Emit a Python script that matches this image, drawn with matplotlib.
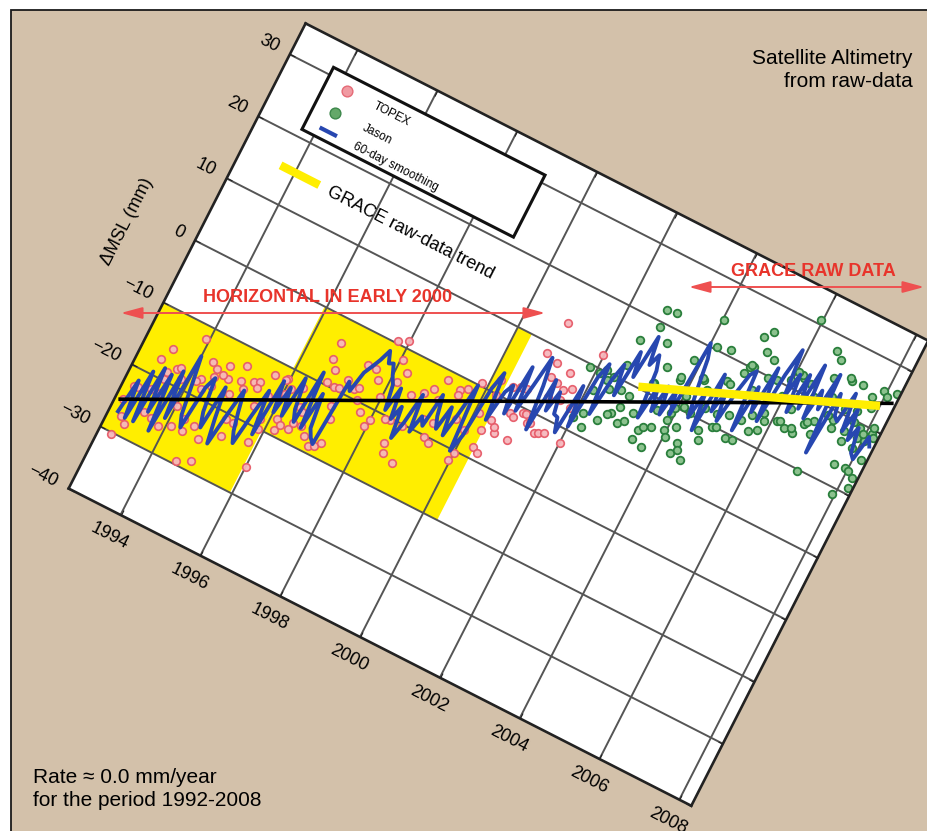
import numpy as np
import matplotlib
matplotlib.use("Agg")
import matplotlib.pyplot as plt
from matplotlib.transforms import Affine2D
from matplotlib.patches import Rectangle, FancyArrowPatch
import mpl_toolkits.axisartist.floating_axes as floating_axes
from mpl_toolkits.axisartist.grid_finder import FixedLocator

plt.rcParams['font.family'] = ['Liberation Sans', 'DejaVu Sans']

# ---------------- data ----------------
x_ticks = [1994, 1996, 1998, 2000, 2002, 2004, 2006, 2008]
y_ticks = [-40, -30, -20, -10, 0, 10, 20, 30]
y_tick_labels = ['\u221240', '\u221230', '\u221220', '\u221210', '0', '10', '20', '30']
X_MIN, X_MAX, Y_MIN, Y_MAX = 1992.7, 2008.3, -40, 35

# 60-day smoothing (blue), one value every 0.1 year from 1992.9
blue_vals = [
    -26.9, -21.6, -27.3, -19.5, -27.2, -18.3, -25.0, -18.7, -27.4, -17.5,
    -24.7, -14.4, -18.6, -23.2, -24.9, -18.1, -16.3, -21.4, -23.6, -16.8,
    -21.5, -25.2, -20.3, -16.0, -19.2, -21.9, -23.5, -18.7, -14.4, -21.1,
    -12.2, -16.9, -12.6, -16.8, -10.4, -15.1, -16.8, -8.5, -17.1, -11.3,
    -16.5, -17.7, -18.4, -8.0, -9.2, -5.9, -4.6, -3.2, -1.4, -3.1,
    -2.8, -4.4, -5.6, -9.3, -5.5, -10.1, -7.8, -12.5, -9.7, -4.9,
    -10.5, -7.7, -8.9, -3.6, -6.7, -8.4, -4.6, -8.8, -4.9, -0.1,
    -10.3, -7.5, 0.4, 3.2, -4.0, 0.8, 2.2, -2.0, 5.8, -0.9,
    3.5, 8.3, 4.1, -2.6, 5.7, 1.1, 4.4, 1.2, 1.0, -1.1,
    6.7, 0.5, 8.8, 11.2, 3.5, 9.3, 12.1, 7.5, 14.8, 11.1,
    17.9, 13.7, 15.6, 13.4, 6.2, 11.5, 7.9, 12.2, 8.0, 12.3,
    8.7, 20.5, 18.3, 13.6, 9.5, 13.8, 8.1, 17.4, 11.8, 15.1,
    10.9, 15.7, 19.0, 19.9, 10.7, 18.0, 14.3, 21.7, 13.5, 21.3,
    25.6, 18.5, 22.3, 16.6, 22.9, 17.8, 25.1, 16.9, 21.7, 19.0,
    24.9, 12.7, 22.5, 19.3, 18.7, 23.5, 17.8, 21.6, 17.0, 19.3,
    15.6, 14.9, 18.8, 17.6]
blue_years = np.round(1992.9 + 0.1 * np.arange(len(blue_vals)), 1)

topex_years = [
    1992.99, 1993.00, 1992.87, 1993.22, 1993.48, 1993.37, 1993.48, 1993.65, 1993.82, 1993.84,
    1994.10, 1994.55, 1994.85, 1994.77, 1993.91, 1994.30, 1994.45, 1994.45, 1994.68, 1995.02,
    1995.16, 1995.31, 1995.20, 1995.80, 1995.86, 1995.81, 1995.30, 1995.44, 1995.72, 1996.18,
    1996.15, 1995.95, 1996.11, 1996.50, 1996.85, 1996.01, 1996.48, 1994.22, 1994.49, 1994.56,
    1994.28, 1993.42, 1993.33, 1992.96, 1994.32, 1994.76,
    1995.91, 1996.46, 1996.69, 1997.03, 1997.15, 1997.25, 1996.66, 1996.80, 1996.63, 1996.94,
    1997.08, 1997.40, 1997.74, 1997.97, 1998.50, 1998.60, 1998.88, 1997.75, 1997.97, 1998.05,
    1998.26, 1998.40, 1999.24, 1999.38, 1999.29, 1999.14, 1999.95, 2000.00, 1999.49, 1999.96,
    1999.63, 2000.33, 2000.47, 2000.30, 2000.59, 2000.19, 2000.72, 2000.52, 2001.16, 2001.39,
    1998.79, 1999.14,
    1997.15, 1997.36, 1997.54, 1997.73, 1997.94, 1998.00,
    2000.95, 2000.85, 2001.14, 2001.50, 2001.16, 2001.35, 2001.54, 2000.66, 2000.82, 2001.22,
    2001.47, 2001.59, 2002.02, 2000.94, 2000.53, 2000.98, 2001.98, 2001.58, 2001.30,
    1993.05, 1993.15, 1993.55, 1993.62, 1993.72, 1994.02, 1994.15, 1994.38, 1994.62, 1994.92,
    1995.05, 1995.12, 1995.42, 1995.55, 1995.65, 1996.05, 1996.25, 1996.35, 1996.58, 1996.75,
    1997.05, 1997.20, 1997.45, 1997.60, 1998.15, 1998.30, 1998.55, 1998.70, 1998.95, 1999.05,
    1999.50, 1999.70, 1999.85, 2000.10, 2000.25, 2000.40, 2000.80, 2001.05, 2001.70, 2001.85]
topex_vals = [
    -30.3, -27.3, -25.0, -17.4, -19.8, -15.3, -18.6, -17.6, -18.7, -26.2,
    -25.4, -29.5, -28.5, -25.3, -11.9, -14.4, -15.0, -16.2, -13.8, -12.7,
    -15.9, -20.8, -23.4, -22.4, -20.1, -18.6, -14.3, -13.9, -15.2, -19.1,
    -17.5, -11.7, -12.8, -16.9, -18.0, -25.7, -14.4, -17.4, -17.6, -23.9,
    -23.6, -25.3, -21.9, -22.6, -18.7, -15.6,
    -11.9, -18.1, -16.9, -19.0, -18.6, -17.7, -6.2, -7.4, -3.6, -9.7,
    -12.4, -4.6, -5.9, -7.9, -13.6, -14.9, -15.6, 0.3, 1.0, -1.7,
    -3.1, -10.2, -10.2, -10.7, -7.8, -1.4, -11.6, -10.3, -1.8, -6.7,
    -1.3, -8.3, -8.8, -5.6, -5.2, 2.1, -1.5, 2.0, -1.7, -2.6,
    -4.6, -4.6,
    -7.9, -8.7, -9.8, -11.2, -12.8, -11.5,
    13.8, 8.6, 8.0, 7.5, 5.7, 5.4, 4.9, 2.5, -1.8, -1.5,
    -2.3, -1.9, -2.1, -5.2, -4.4, -0.7, 12.0, 3.4, 3.0,
    -22.5, -28.1, -21.8, -25.6, -17.3, -22.3, -17.9, -25.2, -15.4, -17.4,
    -15.0, -20.8, -14.8, -17.4, -12.0, -13.8, -18.1, -11.8, -15.0, -9.5,
    -9.5, -14.0, -8.2, -4.7, -4.9, -10.5, -5.7, -10.2, -3.4, -8.0,
    -2.6, -5.9, 0.5, -3.6, -0.2, -3.7, 2.6, -0.6, 5.5, 3.0]

jason_years = [
    2002.79, 2003.02, 2002.83, 2002.57, 2003.13, 2002.21, 2002.10, 2002.41, 2002.32, 2002.68,
    2002.17, 2002.26, 2002.95, 2003.17, 2003.43, 2003.66, 2003.66, 2003.61, 2003.94, 2004.31,
    2004.35, 2002.14, 2001.84, 2002.01, 2002.85,
    2002.73, 2002.52, 2004.03, 2003.92, 2003.28,
    2004.03, 2004.17, 2004.48, 2003.84, 2005.00, 2005.15, 2005.96, 2005.21, 2005.43, 2006.59,
    2006.77, 2006.81, 2007.18, 2006.21, 2005.98, 2005.10, 2004.97, 2005.70, 2005.77, 2006.10,
    2006.32, 2006.52, 2006.67, 2005.62, 2005.23, 2004.87, 2004.62, 2004.72, 2004.84, 2004.71,
    2007.26, 2007.59, 2007.86, 2007.87, 2008.04, 2008.18, 2008.13, 2007.93, 2008.22, 2007.92,
    2007.68, 2007.93, 2008.17, 2008.19, 2007.01, 2005.81, 2005.40, 2005.39, 2006.84, 2007.84,
    2007.59, 2004.25, 2004.12,
    2003.37, 2003.77, 2004.20, 2005.03, 2006.16, 2003.91, 2004.30, 2006.16, 2007.22, 2007.53,
    2007.83, 2008.19, 2004.42, 2004.58, 2008.01,
    2002.45, 2002.65, 2002.90, 2003.05, 2003.25, 2003.50, 2003.75, 2003.95, 2004.15, 2004.40,
    2004.55, 2004.80, 2004.95, 2005.10, 2005.30, 2005.50, 2005.55, 2005.85, 2005.95, 2006.05,
    2006.25, 2006.40, 2006.45, 2006.60, 2006.70, 2006.95, 2007.05, 2007.15, 2007.35, 2007.45,
    2007.65, 2007.75, 2007.95, 2008.05, 2008.10, 2005.05, 2004.05, 2003.40, 2002.55, 2006.90]
jason_vals = [
    21.9, 22.2, 19.2, 16.3, 17.7, 10.3, 9.5, 9.8, 9.0, 8.6,
    3.2, 1.3, 4.2, 6.5, 4.6, 5.8, 2.6, 8.4, 6.3, 3.8,
    5.5, 6.8, 9.6, 2.1, 6.4,
    5.1, 3.3, 5.5, 9.0, 11.7,
    24.3, 20.4, 20.9, 17.2, 24.7, 26.0, 30.6, 23.0, 22.4, 27.8,
    26.8, 24.1, 24.9, 22.2, 21.0, 20.2, 18.8, 20.1, 15.0, 14.9,
    14.5, 14.2, 16.3, 11.7, 9.3, 9.8, 8.5, 7.2, 11.9, 16.8,
    17.5, 16.5, 16.3, 17.9, 18.0, 15.3, 19.4, 25.7, 26.2, 13.3,
    13.1, 9.1, 12.4, 10.9, 9.8, 12.4, 9.4, 12.6, 17.3, 22.7,
    21.4, 15.3, 10.6,
    14.6, 13.8, 15.6, 20.0, 22.4, 7.8, 10.2, 15.1, 18.6, 17.9,
    19.4, 19.0, 4.6, 3.5, 13.1,
    8.0, 4.6, 8.4, 4.9, 11.6, 5.4, 14.2, 9.8, 7.5, 14.3,
    11.8, 16.6, 10.1, 12.5, 17.2, 19.8, 14.0, 14.0, 18.3, 22.6,
    17.3, 21.8, 14.9, 20.4, 16.7, 21.5, 18.9, 25.2, 20.8, 25.1,
    19.8, 24.1, 18.8, 25.1, 20.3, 20.4, 12.1, 3.0, 12.3, 15.4]

# highlighted (yellow) blocks
block_x0 = [1992.7, 1995.95, 2000.0]
block_x1 = [1995.95, 2000.0, 2000.35]
block_y0 = [-30, -20, -20]
block_y1 = [-10, 0, 10]

# overall trend (black) and GRACE raw-data trend (yellow)
trend_years = [1992.82, 2008.21]
trend_vals = [-25.2, 24.6]
grace_years = [2003.0, 2008.0]
grace_vals = [10.2, 23.5]

# ---------------- figure ----------------
W, H = 928, 831
fig = plt.figure(figsize=(W / 100, H / 100), dpi=100)
fig.patch.set_facecolor('white')

TAN = '#D3C1AA'
fig.add_artist(Rectangle((11 / W, -0.1), 1.2, 1.1 - 10 / H, transform=fig.transFigure,
                         facecolor=TAN, edgecolor='#1a1a1a', lw=1.3, zorder=-10))

tr = Affine2D().translate(-2000, 0).scale(44.8, 6.96).rotate_deg(-27)
gh = floating_axes.GridHelperCurveLinear(
    tr, extremes=(X_MIN, X_MAX, Y_MIN, Y_MAX),
    grid_locator1=FixedLocator(x_ticks), grid_locator2=FixedLocator(y_ticks))
ax = fig.add_axes([60.0 / W, 1 - 813.6 / H, 876.9 / W, 798.0 / H],
                  axes_class=floating_axes.FloatingAxes, grid_helper=gh)
ax.grid(True)
ax.gridlines.set_color('#555555')
ax.gridlines.set_linewidth(1.4)
ax.gridlines.set_zorder(1.5)
for k in ['bottom', 'left', 'top', 'right']:
    a = ax.axis[k]
    a.major_ticklabels.set_visible(False)
    a.label.set_visible(False)
    a.line.set_color('#222222')
    a.line.set_linewidth(1.9)
    a.major_ticks.set_ticksize(4)
    a.major_ticks.set_color('#222222')

aux = ax.get_aux_axes(tr)
aux.patch = ax.patch
ax.patch.zorder = 0.9
ax.patch.set_facecolor('white')

YELLOW = '#FFEE00'
for x0, x1, y0, y1 in zip(block_x0, block_x1, block_y0, block_y1):
    aux.add_patch(Rectangle((x0, y0), x1 - x0, y1 - y0, facecolor=YELLOW,
                            edgecolor='none', zorder=1.0))

aux.scatter(topex_years, topex_vals, s=30, facecolor='#F6B8BD', edgecolor='#E65A68',
            linewidth=1.2, alpha=0.95, zorder=2.2)
aux.scatter(jason_years, jason_vals, s=30, facecolor='#8CC28E', edgecolor='#2A7F3C',
            linewidth=1.3, zorder=2.2)
aux.plot(blue_years, blue_vals, color='#2747B0', lw=2.8, zorder=3)
aux.plot(trend_years, trend_vals, color='black', lw=2.6, zorder=4)
aux.plot(grace_years, grace_vals, color=YELLOW, lw=6, solid_capstyle='butt', zorder=4.5)

# legend box (inside the rotated frame)
aux.add_patch(Rectangle((1993.7, 21.2), 5.3, 10.0, facecolor='white', edgecolor='#111111',
                        lw=2.2, zorder=5))
aux.scatter([1994.2], [29.0], s=60, facecolor='#F09AA2', edgecolor='#E56A76', lw=1.0, zorder=6)
aux.scatter([1994.2], [25.5], s=60, facecolor='#64A869', edgecolor='#3C874A', lw=1.0, zorder=6)
aux.plot([1994.08, 1994.42], [22.6, 22.6], color='#2747B0', lw=3, zorder=6)
for yy, lab in [(29.0, 'TOPEX'), (25.5, 'Jason'), (22.5, '60-day smoothing')]:
    aux.text(1994.9, yy, lab, rotation=-27, rotation_mode='anchor', ha='left', va='center',
             fontsize=8.5, zorder=7)
aux.plot([1993.64, 1994.61], [15.2, 15.2], color=YELLOW, lw=6, solid_capstyle='butt', zorder=6)
aux.text(1994.84, 15.0, 'GRACE raw-data trend', rotation=-27, rotation_mode='anchor',
         ha='left', va='center', fontsize=13, zorder=7)

# tick labels
for xt in x_ticks:
    aux.text(xt, -43.4, str(xt), rotation=-27, rotation_mode='anchor', ha='center',
             va='center', fontsize=13)
for yt, lab in zip(y_ticks, y_tick_labels):
    aux.text(X_MIN - 0.3, yt, lab, rotation=-27, rotation_mode='anchor', ha='right',
             va='center', fontsize=13)

fig.text(127 / W, 1 - 222 / H, '\u0394MSL (mm)', rotation=63, ha='center', va='center',
         fontsize=13)

# screen-space annotations
RED = '#E8342B'
fig.text(913 / W, 1 - 70 / H, 'Satellite Altimetry\nfrom raw-data', ha='right', va='center',
         fontsize=15, linespacing=1.25)
fig.text(33 / W, 1 - 789 / H, 'Rate \u2248 0.0 mm/year\nfor the period 1992-2008', ha='left',
         va='center', fontsize=15, linespacing=1.25)
fig.text(328 / W, 1 - 298 / H, 'HORIZONTAL IN EARLY 2000', ha='center', va='center',
         fontsize=13, fontweight='bold', color=RED)
fig.text(813 / W, 1 - 272 / H, 'GRACE RAW DATA', ha='center', va='center',
         fontsize=13, fontweight='bold', color=RED)
for (x0, x1, yy) in [(118, 548, 313), (686, 927, 287)]:
    fig.add_artist(FancyArrowPatch((x0 / W, 1 - yy / H), (x1 / W, 1 - yy / H),
                                   transform=fig.transFigure,
                                   arrowstyle='<|-|>,head_length=1.3,head_width=0.35',
                                   mutation_scale=10, color='#EE5050', lw=1.4, zorder=10))

fig.savefig('out.png', dpi=100)
